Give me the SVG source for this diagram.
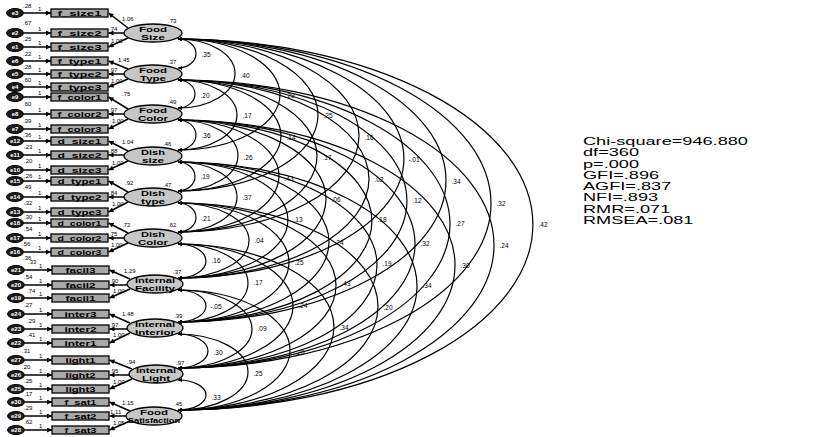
<svg xmlns="http://www.w3.org/2000/svg" width="835" height="437" viewBox="0 0 835 437">
<style>
.box{fill:#a8a8a8;stroke:#000;stroke-width:1.3}
.lat{fill:#c6c6c6;stroke:#000;stroke-width:1.3}
.err{fill:#1c1c1c;stroke:#000;stroke-width:1}
.ln{stroke:#000;stroke-width:1.5;fill:none;marker-end:url(#ah)}
.arc{stroke:#000;stroke-width:1.2;fill:none;marker-start:url(#ca);marker-end:url(#ca)}
text{font-family:"Liberation Sans",Arial,sans-serif;fill:#000}
.bt{font-size:7.5px;font-weight:bold;text-anchor:middle}
.lt{font-size:7.5px;font-weight:bold;text-anchor:middle}
.et{font-size:6px;font-weight:bold;fill:#fff;text-anchor:middle}
.n{font-size:6px}
.c{font-size:6.5px;text-anchor:middle}
.fit{font-size:11px}
</style>
<defs>
<marker id="ah" viewBox="0 0 10 10" refX="10" refY="5" markerWidth="6" markerHeight="5" markerUnits="userSpaceOnUse" orient="auto"><path d="M0,0 L10,5 L0,10 z" fill="#000"/></marker>
<marker id="ca" viewBox="0 0 10 10" refX="10" refY="5" markerWidth="5" markerHeight="4" markerUnits="userSpaceOnUse" orient="auto-start-reverse"><path d="M0,0 L10,5 L0,10 z" fill="#000"/></marker>
</defs>

<g id="connectors">
<path class="ln" d="M24,13H51"/><path class="ln" d="M24,33H51"/><path class="ln" d="M24,47H51"/>
<path class="ln" d="M24,61H51"/><path class="ln" d="M24,74H51"/><path class="ln" d="M24,87H51"/>
<path class="ln" d="M24,97H51"/><path class="ln" d="M24,114H51"/><path class="ln" d="M24,129H51"/>
<path class="ln" d="M24,141H51"/><path class="ln" d="M24,155H51"/><path class="ln" d="M24,170H51"/>
<path class="ln" d="M24,181H51"/><path class="ln" d="M24,197H51"/><path class="ln" d="M24,212H51"/>
<path class="ln" d="M24,223H51"/><path class="ln" d="M24,238H51"/><path class="ln" d="M24,252H51"/>
<path class="ln" d="M25,270H52"/><path class="ln" d="M25,285H52"/><path class="ln" d="M25,298H52"/>
<path class="ln" d="M25,314H52"/><path class="ln" d="M25,329H52"/><path class="ln" d="M25,343H52"/>
<path class="ln" d="M25,360H52"/><path class="ln" d="M25,375H52"/><path class="ln" d="M25,389H52"/>
<path class="ln" d="M25,402H52"/><path class="ln" d="M25,416H52"/><path class="ln" d="M25,430H52"/>
<path class="ln" d="M128,28L108.5,13"/><path class="ln" d="M124,33H108.5"/><path class="ln" d="M128,38L108.5,47"/>
<path class="ln" d="M128,69L108.5,61"/><path class="ln" d="M124,74H108.5"/><path class="ln" d="M128,79L108.5,87"/>
<path class="ln" d="M128,109L108.5,97"/><path class="ln" d="M124,114H108.5"/><path class="ln" d="M128,119L108.5,129"/>
<path class="ln" d="M128,151L108.5,141"/><path class="ln" d="M124,155H108.5"/><path class="ln" d="M128,161L108.5,170"/>
<path class="ln" d="M128,192L108.5,181"/><path class="ln" d="M124,197H108.5"/><path class="ln" d="M128,202L108.5,212"/>
<path class="ln" d="M128,233L108.5,223"/><path class="ln" d="M124,238H108.5"/><path class="ln" d="M128,243L108.5,252"/>
<path class="ln" d="M130,279L109.5,270"/><path class="ln" d="M127,285H109.5"/><path class="ln" d="M130,289L109.5,298"/>
<path class="ln" d="M130,323L109.5,314"/><path class="ln" d="M127,329H109.5"/><path class="ln" d="M130,333L109.5,343"/>
<path class="ln" d="M132,369L109.5,360"/><path class="ln" d="M129,375H109.5"/><path class="ln" d="M132,379L109.5,389"/>
<path class="ln" d="M130,411L109.5,402"/><path class="ln" d="M126,416H109.5"/><path class="ln" d="M130,421L109.5,430"/>
<path class="arc" d="M178,39A18,14.5 0 0 1 178,68"/>
<path class="arc" d="M178,80A17,14 0 0 1 178,108"/>
<path class="arc" d="M178,120A18,15 0 0 1 178,150"/>
<path class="arc" d="M178,162A17,14.5 0 0 1 178,191"/>
<path class="arc" d="M178,203A18,14.5 0 0 1 178,232"/>
<path class="arc" d="M178,244A28,17 0 0 1 178,278"/>
<path class="arc" d="M178,290A28,16 0 0 1 178,322"/>
<path class="arc" d="M178,334A30,17 0 0 1 178,368"/>
<path class="arc" d="M178,380A28,15 0 0 1 178,410"/>
<path class="arc" d="M178,39A57,34.5 0 0 1 178,108"/>
<path class="arc" d="M178,80A59,35 0 0 1 178,150"/>
<path class="arc" d="M178,120A60,35.5 0 0 1 178,191"/>
<path class="arc" d="M178,162A59,35 0 0 1 178,232"/>
<path class="arc" d="M178,203A71,37.5 0 0 1 178,278"/>
<path class="arc" d="M178,244A70,39 0 0 1 178,322"/>
<path class="arc" d="M178,290A74,39 0 0 1 178,368"/>
<path class="arc" d="M178,334A70,38 0 0 1 178,410"/>
<path class="arc" d="M178,39A102,55.5 0 0 1 178,150"/>
<path class="arc" d="M178,80A103,55.5 0 0 1 178,191"/>
<path class="arc" d="M178,120A101,56 0 0 1 178,232"/>
<path class="arc" d="M178,162A110,58 0 0 1 178,278"/>
<path class="arc" d="M178,203A111,59.5 0 0 1 178,322"/>
<path class="arc" d="M178,244A115,62 0 0 1 178,368"/>
<path class="arc" d="M178,290A112,60 0 0 1 178,410"/>
<path class="arc" d="M178,39A140,76 0 0 1 178,191"/>
<path class="arc" d="M178,80A139,76 0 0 1 178,232"/>
<path class="arc" d="M178,120A148,79 0 0 1 178,278"/>
<path class="arc" d="M178,162A151,80 0 0 1 178,322"/>
<path class="arc" d="M178,203A158,82.5 0 0 1 178,368"/>
<path class="arc" d="M178,244A156,83 0 0 1 178,410"/>
<path class="arc" d="M178,39A181,96.5 0 0 1 178,232"/>
<path class="arc" d="M178,80A191,99 0 0 1 178,278"/>
<path class="arc" d="M178,120A194,101 0 0 1 178,322"/>
<path class="arc" d="M178,162A199,103 0 0 1 178,368"/>
<path class="arc" d="M178,203A200,103.5 0 0 1 178,410"/>
<path class="arc" d="M178,39A226,119.5 0 0 1 178,278"/>
<path class="arc" d="M178,80A229,121 0 0 1 178,322"/>
<path class="arc" d="M178,120A237,124 0 0 1 178,368"/>
<path class="arc" d="M178,162A239,124 0 0 1 178,410"/>
<path class="arc" d="M178,39A268,141.5 0 0 1 178,322"/>
<path class="arc" d="M178,80A272,144 0 0 1 178,368"/>
<path class="arc" d="M178,120A277,145 0 0 1 178,410"/>
<path class="arc" d="M178,39A313,164.5 0 0 1 178,368"/>
<path class="arc" d="M178,80A316,165 0 0 1 178,410"/>
<path class="arc" d="M178,39A355,185.5 0 0 1 178,410"/>
</g>

<g id="covariance-labels">
<text class="c" x="206" y="56.5">.35</text><text class="c" x="205" y="97.5">.20</text><text class="c" x="206" y="137.5">.36</text>
<text class="c" x="205" y="178.5">.19</text><text class="c" x="206" y="220.5">.21</text><text class="c" x="216" y="262.5">.16</text>
<text class="c" x="216" y="308.5">-.05</text><text class="c" x="218" y="354.5">.30</text><text class="c" x="216" y="399.5">.33</text>
<text class="c" x="245" y="77.5">.40</text><text class="c" x="247" y="117.5">.17</text><text class="c" x="248" y="159.5">.26</text>
<text class="c" x="247" y="199.5">.37</text><text class="c" x="259" y="242.5">.04</text><text class="c" x="258" y="284.5">.17</text>
<text class="c" x="262" y="330.5">.09</text><text class="c" x="258" y="375.5">.25</text>
<text class="c" x="290" y="97.5">.29</text><text class="c" x="291" y="139.5">.14</text><text class="c" x="289" y="180.5">.43</text>
<text class="c" x="298" y="221.5">.13</text><text class="c" x="299" y="264.5">.25</text><text class="c" x="303" y="307.5">.24</text>
<text class="c" x="300" y="354.5">.20</text>
<text class="c" x="328" y="117.5">.25</text><text class="c" x="327" y="159.5">.17</text><text class="c" x="336" y="201.5">.06</text>
<text class="c" x="339" y="244.5">.24</text><text class="c" x="346" y="285.5">.43</text><text class="c" x="344" y="329.5">.34</text>
<text class="c" x="369" y="139.5">.16</text><text class="c" x="379" y="181.5">.02</text><text class="c" x="382" y="221.5">.18</text>
<text class="c" x="387" y="265.5">.19</text><text class="c" x="388" y="309.5">.20</text>
<text class="c" x="414" y="161.5">-.01</text><text class="c" x="417" y="202.5">.12</text><text class="c" x="425" y="245.5">.32</text>
<text class="c" x="427" y="287.5">.34</text>
<text class="c" x="456" y="183.5">.34</text><text class="c" x="460" y="225.5">.27</text><text class="c" x="465" y="267.5">.30</text>
<text class="c" x="501" y="205.5">.32</text><text class="c" x="504" y="247.5">.24</text>
<text class="c" x="543" y="226.5">.42</text>
</g>

<g id="loading-labels">
<text class="n" x="122" y="21">1.06</text><text class="n" x="109" y="31">.74</text><text class="n" x="111" y="43">1.00</text>
<text class="n" x="118" y="62">1.45</text><text class="n" x="109" y="72">.97</text><text class="n" x="111" y="83">1.00</text>
<text class="n" x="122" y="96">.75</text><text class="n" x="109" y="112">.97</text><text class="n" x="112" y="123">1.00</text>
<text class="n" x="122" y="144">1.04</text><text class="n" x="109" y="153">.88</text><text class="n" x="112" y="165">1.00</text>
<text class="n" x="125" y="185">.92</text><text class="n" x="109" y="195">.84</text><text class="n" x="112" y="206">1.00</text>
<text class="n" x="122" y="227">.72</text><text class="n" x="109" y="236">.75</text><text class="n" x="111" y="247">1.00</text>
<text class="n" x="124" y="273">1.29</text><text class="n" x="110" y="283">.90</text><text class="n" x="113" y="293">1.00</text>
<text class="n" x="122" y="316">1.48</text><text class="n" x="110" y="327">.97</text><text class="n" x="113" y="337">1.00</text>
<text class="n" x="127" y="364">.94</text><text class="n" x="110" y="373">.95</text><text class="n" x="113" y="384">1.00</text>
<text class="n" x="122" y="405">1.15</text><text class="n" x="110" y="414">1.11</text><text class="n" x="113" y="425">1.05</text>
</g>

<g id="latent-variances">
<text class="n" x="168" y="23">.73</text><text class="n" x="168" y="64">.37</text><text class="n" x="168" y="104">.49</text>
<text class="n" x="163" y="146">.46</text><text class="n" x="163" y="187">.47</text><text class="n" x="168" y="227">.62</text>
<text class="n" x="173" y="274">.37</text><text class="n" x="174" y="318">.39</text><text class="n" x="176" y="365">.97</text>
<text class="n" x="174" y="406">.45</text>
</g>

<g id="Food_Size"><ellipse class="lat" cx="153" cy="33" rx="29" ry="9"/><text class="lt" x="153" y="32" textLength="28" lengthAdjust="spacingAndGlyphs">Food</text><text class="lt" x="153" y="40" textLength="24" lengthAdjust="spacingAndGlyphs">Size</text></g>
<g id="Food_Type"><ellipse class="lat" cx="153" cy="74" rx="29" ry="9"/><text class="lt" x="153" y="73" textLength="28" lengthAdjust="spacingAndGlyphs">Food</text><text class="lt" x="153" y="81" textLength="26" lengthAdjust="spacingAndGlyphs">Type</text></g>
<g id="Food_Color"><ellipse class="lat" cx="153" cy="114" rx="29" ry="9"/><text class="lt" x="153" y="113" textLength="28" lengthAdjust="spacingAndGlyphs">Food</text><text class="lt" x="153" y="121" textLength="30" lengthAdjust="spacingAndGlyphs">Color</text></g>
<g id="Dish_size"><ellipse class="lat" cx="153" cy="156" rx="29" ry="9"/><text class="lt" x="153" y="155" textLength="24" lengthAdjust="spacingAndGlyphs">Dish</text><text class="lt" x="153" y="163" textLength="22" lengthAdjust="spacingAndGlyphs">size</text></g>
<g id="Dish_type"><ellipse class="lat" cx="153" cy="197" rx="29" ry="9"/><text class="lt" x="153" y="196" textLength="24" lengthAdjust="spacingAndGlyphs">Dish</text><text class="lt" x="153" y="204" textLength="24" lengthAdjust="spacingAndGlyphs">type</text></g>
<g id="Dish_Color"><ellipse class="lat" cx="153" cy="238" rx="29" ry="9"/><text class="lt" x="153" y="237" textLength="24" lengthAdjust="spacingAndGlyphs">Dish</text><text class="lt" x="153" y="245" textLength="30" lengthAdjust="spacingAndGlyphs">Color</text></g>
<g id="Internal_Facility"><ellipse class="lat" cx="155" cy="284" rx="28" ry="9"/><text class="lt" x="155" y="283" textLength="40" lengthAdjust="spacingAndGlyphs">Internal</text><text class="lt" x="155" y="291" textLength="40" lengthAdjust="spacingAndGlyphs">Facility</text></g>
<g id="Internal_Interior"><ellipse class="lat" cx="155" cy="328" rx="28" ry="9"/><text class="lt" x="155" y="327" textLength="40" lengthAdjust="spacingAndGlyphs">Internal</text><text class="lt" x="155" y="335" textLength="40" lengthAdjust="spacingAndGlyphs">Interior</text></g>
<g id="Internal_Light"><ellipse class="lat" cx="156" cy="374" rx="27" ry="9"/><text class="lt" x="156" y="373" textLength="40" lengthAdjust="spacingAndGlyphs">Internal</text><text class="lt" x="156" y="381" textLength="28" lengthAdjust="spacingAndGlyphs">Light</text></g>
<g id="Food_Satisfaction"><ellipse class="lat" cx="154" cy="416" rx="28" ry="9"/><text class="lt" x="154" y="415" textLength="28" lengthAdjust="spacingAndGlyphs">Food</text><text class="lt" x="154" y="423" textLength="52" lengthAdjust="spacingAndGlyphs">Satisfaction</text></g>

<g id="f_size1"><rect class="box" x="51" y="9" width="57" height="8"/><text class="bt" x="79.5" y="15.7" textLength="44" lengthAdjust="spacingAndGlyphs">f_size1</text></g>
<g id="f_size2"><rect class="box" x="51" y="29" width="57" height="8"/><text class="bt" x="79.5" y="35.7" textLength="44" lengthAdjust="spacingAndGlyphs">f_size2</text></g>
<g id="f_size3"><rect class="box" x="51" y="43" width="57" height="8"/><text class="bt" x="79.5" y="49.7" textLength="44" lengthAdjust="spacingAndGlyphs">f_size3</text></g>
<g id="f_type1"><rect class="box" x="51" y="57" width="57" height="8"/><text class="bt" x="79.5" y="63.7" textLength="44" lengthAdjust="spacingAndGlyphs">f_type1</text></g>
<g id="f_type2"><rect class="box" x="51" y="70" width="57" height="8"/><text class="bt" x="79.5" y="76.7" textLength="44" lengthAdjust="spacingAndGlyphs">f_type2</text></g>
<g id="f_type3"><rect class="box" x="51" y="83" width="57" height="8"/><text class="bt" x="79.5" y="89.7" textLength="44" lengthAdjust="spacingAndGlyphs">f_type3</text></g>
<g id="f_color1"><rect class="box" x="51" y="93" width="57" height="8"/><text class="bt" x="79.5" y="99.7" textLength="44" lengthAdjust="spacingAndGlyphs">f_color1</text></g>
<g id="f_color2"><rect class="box" x="51" y="110" width="57" height="8"/><text class="bt" x="79.5" y="116.7" textLength="44" lengthAdjust="spacingAndGlyphs">f_color2</text></g>
<g id="f_color3"><rect class="box" x="51" y="125" width="57" height="8"/><text class="bt" x="79.5" y="131.7" textLength="44" lengthAdjust="spacingAndGlyphs">f_color3</text></g>
<g id="d_size1"><rect class="box" x="51" y="137" width="57" height="8"/><text class="bt" x="79.5" y="143.7" textLength="44" lengthAdjust="spacingAndGlyphs">d_size1</text></g>
<g id="d_size2"><rect class="box" x="51" y="151" width="57" height="8"/><text class="bt" x="79.5" y="157.7" textLength="44" lengthAdjust="spacingAndGlyphs">d_size2</text></g>
<g id="d_size3"><rect class="box" x="51" y="166" width="57" height="8"/><text class="bt" x="79.5" y="172.7" textLength="44" lengthAdjust="spacingAndGlyphs">d_size3</text></g>
<g id="d_type1"><rect class="box" x="51" y="177" width="57" height="8"/><text class="bt" x="79.5" y="183.7" textLength="44" lengthAdjust="spacingAndGlyphs">d_type1</text></g>
<g id="d_type2"><rect class="box" x="51" y="193" width="57" height="8"/><text class="bt" x="79.5" y="199.7" textLength="44" lengthAdjust="spacingAndGlyphs">d_type2</text></g>
<g id="d_type3"><rect class="box" x="51" y="208" width="57" height="8"/><text class="bt" x="79.5" y="214.7" textLength="44" lengthAdjust="spacingAndGlyphs">d_type3</text></g>
<g id="d_color1"><rect class="box" x="51" y="219" width="57" height="8"/><text class="bt" x="79.5" y="225.7" textLength="44" lengthAdjust="spacingAndGlyphs">d_color1</text></g>
<g id="d_color2"><rect class="box" x="51" y="234" width="57" height="8"/><text class="bt" x="79.5" y="240.7" textLength="44" lengthAdjust="spacingAndGlyphs">d_color2</text></g>
<g id="d_color3"><rect class="box" x="51" y="248" width="57" height="8"/><text class="bt" x="79.5" y="254.7" textLength="44" lengthAdjust="spacingAndGlyphs">d_color3</text></g>
<g id="facil3"><rect class="box" x="52" y="266" width="57" height="8"/><text class="bt" x="80.5" y="272.7" textLength="30" lengthAdjust="spacingAndGlyphs">facil3</text></g>
<g id="facil2"><rect class="box" x="52" y="281" width="57" height="8"/><text class="bt" x="80.5" y="287.7" textLength="30" lengthAdjust="spacingAndGlyphs">facil2</text></g>
<g id="facil1"><rect class="box" x="52" y="294" width="57" height="8"/><text class="bt" x="80.5" y="300.7" textLength="30" lengthAdjust="spacingAndGlyphs">facil1</text></g>
<g id="inter3"><rect class="box" x="52" y="310" width="57" height="8"/><text class="bt" x="80.5" y="316.7" textLength="32" lengthAdjust="spacingAndGlyphs">inter3</text></g>
<g id="inter2"><rect class="box" x="52" y="325" width="57" height="8"/><text class="bt" x="80.5" y="331.7" textLength="32" lengthAdjust="spacingAndGlyphs">inter2</text></g>
<g id="inter1"><rect class="box" x="52" y="339" width="57" height="8"/><text class="bt" x="80.5" y="345.7" textLength="32" lengthAdjust="spacingAndGlyphs">inter1</text></g>
<g id="light1"><rect class="box" x="52" y="356" width="57" height="8"/><text class="bt" x="80.5" y="362.7" textLength="30" lengthAdjust="spacingAndGlyphs">light1</text></g>
<g id="light2"><rect class="box" x="52" y="371" width="57" height="8"/><text class="bt" x="80.5" y="377.7" textLength="30" lengthAdjust="spacingAndGlyphs">light2</text></g>
<g id="light3"><rect class="box" x="52" y="385" width="57" height="8"/><text class="bt" x="80.5" y="391.7" textLength="30" lengthAdjust="spacingAndGlyphs">light3</text></g>
<g id="f_sat1"><rect class="box" x="52" y="398" width="57" height="8"/><text class="bt" x="80.5" y="404.7" textLength="32" lengthAdjust="spacingAndGlyphs">f_sat1</text></g>
<g id="f_sat2"><rect class="box" x="52" y="412" width="57" height="8"/><text class="bt" x="80.5" y="418.7" textLength="32" lengthAdjust="spacingAndGlyphs">f_sat2</text></g>
<g id="f_sat3"><rect class="box" x="52" y="426" width="57" height="8"/><text class="bt" x="80.5" y="432.7" textLength="32" lengthAdjust="spacingAndGlyphs">f_sat3</text></g>

<g id="e3"><ellipse class="err" cx="15" cy="13" rx="8.5" ry="4.5"/><text class="et" x="15" y="15.2">e3</text><text class="n" x="23" y="7.5">.28</text><text class="n" x="38" y="10.5">1</text></g>
<g id="e2"><ellipse class="err" cx="15" cy="33" rx="8.5" ry="4.5"/><text class="et" x="15" y="35.2">e2</text><text class="n" x="23" y="25">.67</text><text class="n" x="38" y="30.5">1</text></g>
<g id="e1"><ellipse class="err" cx="15" cy="47" rx="8.5" ry="4.5"/><text class="et" x="15" y="49.2">e1</text><text class="n" x="23" y="41">.25</text><text class="n" x="38" y="44.5">1</text></g>
<g id="e6"><ellipse class="err" cx="15" cy="61" rx="8.5" ry="4.5"/><text class="et" x="15" y="63.2">e6</text><text class="n" x="23" y="55.5">.22</text><text class="n" x="38" y="58.5">1</text></g>
<g id="e5"><ellipse class="err" cx="15" cy="74" rx="8.5" ry="4.5"/><text class="et" x="15" y="76.2">e5</text><text class="n" x="23" y="68.5">.28</text><text class="n" x="38" y="71.5">1</text></g>
<g id="e4"><ellipse class="err" cx="15" cy="87" rx="8.5" ry="4.5"/><text class="et" x="15" y="89.2">e4</text><text class="n" x="23" y="81.5">.60</text><text class="n" x="38" y="84.5">1</text></g>
<g id="e9"><ellipse class="err" cx="15" cy="97" rx="8.5" ry="4.5"/><text class="et" x="15" y="99.2">e9</text><text class="n" x="23" y="106">.60</text><text class="n" x="38" y="94.5">1</text></g>
<g id="e8"><ellipse class="err" cx="15" cy="114" rx="8.5" ry="4.5"/><text class="et" x="15" y="116.2">e8</text><text class="n" x="23" y="123">.39</text><text class="n" x="38" y="111.5">1</text></g>
<g id="e7"><ellipse class="err" cx="15" cy="129" rx="8.5" ry="4.5"/><text class="et" x="15" y="131.2">e7</text><text class="n" x="23" y="137">.36</text><text class="n" x="38" y="126.5">1</text></g>
<g id="e12"><ellipse class="err" cx="15" cy="141" rx="8.5" ry="4.5"/><text class="et" x="15" y="143.2">e12</text><text class="n" x="24" y="148.5">.23</text><text class="n" x="38" y="138.5">1</text></g>
<g id="e11"><ellipse class="err" cx="15" cy="155" rx="8.5" ry="4.5"/><text class="et" x="15" y="157.2">e11</text><text class="n" x="24" y="163">.20</text><text class="n" x="38" y="152.5">1</text></g>
<g id="e10"><ellipse class="err" cx="15" cy="170" rx="8.5" ry="4.5"/><text class="et" x="15" y="172.2">e10</text><text class="n" x="24" y="177.5">.26</text><text class="n" x="38" y="167.5">1</text></g>
<g id="e15"><ellipse class="err" cx="15" cy="181" rx="8.5" ry="4.5"/><text class="et" x="15" y="183.2">e15</text><text class="n" x="23" y="189">.49</text><text class="n" x="38" y="178.5">1</text></g>
<g id="e14"><ellipse class="err" cx="15" cy="197" rx="8.5" ry="4.5"/><text class="et" x="15" y="199.2">e14</text><text class="n" x="24" y="204.5">.32</text><text class="n" x="38" y="194.5">1</text></g>
<g id="e13"><ellipse class="err" cx="15" cy="212" rx="8.5" ry="4.5"/><text class="et" x="15" y="214.2">e13</text><text class="n" x="24" y="219">.30</text><text class="n" x="38" y="209.5">1</text></g>
<g id="e18"><ellipse class="err" cx="15" cy="223" rx="8.5" ry="4.5"/><text class="et" x="15" y="225.2">e18</text><text class="n" x="24" y="230.5">.54</text><text class="n" x="38" y="220.5">1</text></g>
<g id="e17"><ellipse class="err" cx="15" cy="238" rx="8.5" ry="4.5"/><text class="et" x="15" y="240.2">e17</text><text class="n" x="22" y="245.5">.56</text><text class="n" x="38" y="235.5">1</text></g>
<g id="e16"><ellipse class="err" cx="15" cy="252" rx="8.5" ry="4.5"/><text class="et" x="15" y="254.2">e16</text><text class="n" x="23" y="259.5">.36</text><text class="n" x="38" y="249.5">1</text></g>
<g id="e21"><ellipse class="err" cx="16" cy="270" rx="8.5" ry="4.5"/><text class="et" x="16" y="272.2">e21</text><text class="n" x="28" y="264">.33</text><text class="n" x="39" y="267.5">1</text></g>
<g id="e20"><ellipse class="err" cx="16" cy="285" rx="8.5" ry="4.5"/><text class="et" x="16" y="287.2">e20</text><text class="n" x="24" y="279">.54</text><text class="n" x="39" y="282.5">1</text></g>
<g id="e19"><ellipse class="err" cx="16" cy="298" rx="8.5" ry="4.5"/><text class="et" x="16" y="300.2">e19</text><text class="n" x="27" y="292.5">.74</text><text class="n" x="39" y="295.5">1</text></g>
<g id="e24"><ellipse class="err" cx="16" cy="314" rx="8.5" ry="4.5"/><text class="et" x="16" y="316.2">e24</text><text class="n" x="24" y="307">.27</text><text class="n" x="39" y="311.5">1</text></g>
<g id="e23"><ellipse class="err" cx="16" cy="329" rx="8.5" ry="4.5"/><text class="et" x="16" y="331.2">e23</text><text class="n" x="27" y="322.5">.29</text><text class="n" x="39" y="326.5">1</text></g>
<g id="e22"><ellipse class="err" cx="16" cy="343" rx="8.5" ry="4.5"/><text class="et" x="16" y="345.2">e22</text><text class="n" x="27" y="336.5">.41</text><text class="n" x="39" y="340.5">1</text></g>
<g id="e27"><ellipse class="err" cx="16" cy="360" rx="8.5" ry="4.5"/><text class="et" x="16" y="362.2">e27</text><text class="n" x="22" y="353">.31</text><text class="n" x="39" y="357.5">1</text></g>
<g id="e26"><ellipse class="err" cx="16" cy="375" rx="8.5" ry="4.5"/><text class="et" x="16" y="377.2">e26</text><text class="n" x="22" y="368.5">.20</text><text class="n" x="39" y="372.5">1</text></g>
<g id="e25"><ellipse class="err" cx="16" cy="389" rx="8.5" ry="4.5"/><text class="et" x="16" y="391.2">e25</text><text class="n" x="24" y="382.5">.25</text><text class="n" x="39" y="386.5">1</text></g>
<g id="e30"><ellipse class="err" cx="16" cy="402" rx="8.5" ry="4.5"/><text class="et" x="16" y="404.2">e30</text><text class="n" x="24" y="396">.17</text><text class="n" x="39" y="399.5">1</text></g>
<g id="e29"><ellipse class="err" cx="16" cy="416" rx="8.5" ry="4.5"/><text class="et" x="16" y="418.2">e29</text><text class="n" x="24" y="410">.29</text><text class="n" x="39" y="413.5">1</text></g>
<g id="e28"><ellipse class="err" cx="16" cy="430" rx="8.5" ry="4.5"/><text class="et" x="16" y="432.2">e28</text><text class="n" x="24" y="424">.62</text><text class="n" x="39" y="427.5">1</text></g>

<g id="fit-indices" transform="translate(583,0) scale(1.65,1)">
<text class="fit" x="0" y="145">Chi-square=946.880</text>
<text class="fit" x="0" y="156.3">df=360</text>
<text class="fit" x="0" y="167.6">p=.000</text>
<text class="fit" x="0" y="178.9">GFI=.896</text>
<text class="fit" x="0" y="190.2">AGFI=.837</text>
<text class="fit" x="0" y="201.5">NFI=.893</text>
<text class="fit" x="0" y="212.8">RMR=.071</text>
<text class="fit" x="0" y="224.1">RMSEA=.081</text>
</g>
</svg>
